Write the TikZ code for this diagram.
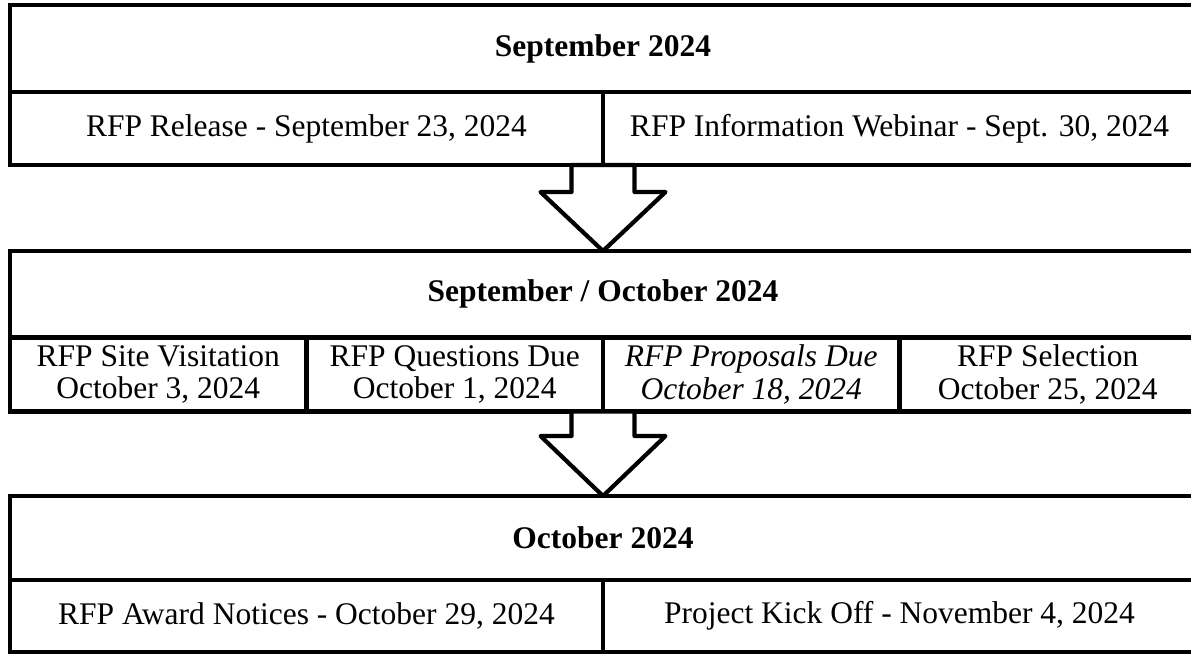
\documentclass[tikz,border=0pt]{standalone}
\usepackage{fontspec}
\setmainfont{Liberation Serif}
\usetikzlibrary{calc}
\begin{document}
\begin{tikzpicture}[x=1pt,y=-1pt,
  cell/.style={draw=black, line width=4.2pt, rectangle, inner sep=0pt, outer sep=0pt,
    align=center, font=\fontsize{31.5}{32.5}\selectfont, fill=white},
  head/.style={cell, font=\fontsize{31.5}{32.5}\selectfont\bfseries},
  bigarrow/.style={draw=black, fill=white, line width=4.2pt, line join=round}
]
\useasboundingbox (0,0) rectangle (1191,655);
\clip (0,0) rectangle (1191,655);

% Block 1
\node[head, minimum width=1186pt, minimum height=87pt] (h1) at (603,48.5) {September 2024};
\node[cell, minimum width=593pt, minimum height=73pt] (c11) at (306.5,128.5) {RFP Release - September 23, 2024};
\node[cell, minimum width=593pt, minimum height=73pt] (c12) at (899.5,128.5) {RFP Information Webinar - Sept. 30, 2024};

% Block 2
\node[head, minimum width=1186pt, minimum height=86.5pt] (h2) at (603,294.25) {September / October 2024};
\node[cell, minimum width=296.5pt, minimum height=74pt] (c21) at (158.25,374.5) {RFP Site Visitation\\October 3, 2024};
\node[cell, minimum width=296.5pt, minimum height=74pt] (c22) at (454.75,374.5) {RFP Questions Due\\October 1, 2024};
\node[cell, minimum width=296.5pt, minimum height=74pt] (c23) at (751.25,374.5) {\itshape RFP Proposals Due\\\itshape October 18, 2024};
\node[cell, minimum width=296.5pt, minimum height=74pt] (c24) at (1047.75,374.5) {RFP Selection\\October 25, 2024};

% Block 3
\node[head, minimum width=1186pt, minimum height=84pt] (h3) at (603,538) {October 2024};
\node[cell, minimum width=593pt, minimum height=72pt] (c31) at (306.5,616) {RFP Award Notices - October 29, 2024};
\node[cell, minimum width=593pt, minimum height=72pt] (c32) at (899.5,616) {Project Kick Off - November 4, 2024};

% Arrows
\draw[bigarrow] ($(c11.south east)+(-31.5,0)$) -- ++(0,27) -- ++(-31,0) -- (h2.north)
  -- ($(c11.south east)+(62.5,27)$) -- ++(-31,0) -- ++(0,-27) -- cycle;
\draw[bigarrow] ($(c22.south east)+(-31.5,0)$) -- ++(0,24.5) -- ++(-31,0) -- (h3.north)
  -- ($(c22.south east)+(62.5,24.5)$) -- ++(-31,0) -- ++(0,-24.5) -- cycle;
\end{tikzpicture}
\end{document}
